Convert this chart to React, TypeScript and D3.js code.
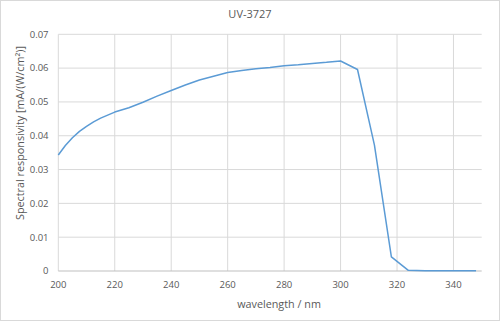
import React from "react";
import * as d3 from "d3";

const title = "UV-3727";
const xLabel = "wavelength / nm";
const yLabel = "Spectral responsivity [mA/(W/cm²)]";

const wavelengths = [200, 202.5, 205, 207.5, 210, 212.5, 215, 220, 225, 230, 235, 240, 245, 250, 255, 260, 265, 270, 275, 280, 285, 290, 295, 300, 306, 312, 318, 324, 330, 336, 342, 348];
const responsivity = [0.0343, 0.0371, 0.0394, 0.0413, 0.0428, 0.0441, 0.0452, 0.047, 0.0483, 0.0499, 0.0517, 0.0534, 0.055, 0.0565, 0.0576, 0.0587, 0.0593, 0.0598, 0.0602, 0.0607, 0.061, 0.0614, 0.0617, 0.0621, 0.0596, 0.0372, 0.0042, 0.0002, 0.0001, 0.0001, 0.0001, 0.0001];

const xTicks = [200, 220, 240, 260, 280, 300, 320, 340];
const yTicks = [0, 0.01, 0.02, 0.03, 0.04, 0.05, 0.06, 0.07];

const W = 500;
const H = 321;
const font = "'Open Sans', sans-serif";
const textColor = "#595959";

export default function App() {
  const x = d3.scaleLinear().domain([200, 350]).range([58.3, 481.7]);
  const y = d3.scaleLinear().domain([0, 0.07]).range([271, 34.3]);
  const pts = wavelengths.map((w, i) => [w, responsivity[i]] as [number, number]);
  const line = d3.line<[number, number]>().x(d => x(d[0])).y(d => y(d[1]));
  const yFmt = (v: number) => (v === 0 ? "0" : d3.format(".2f")(v));

  return (
    <svg width={W} height={H} style={{ position: "absolute", left: 0, top: 0, display: "block" }}>
      <rect x={0.5} y={0.5} width={W - 1} height={H - 1} fill="#fff" stroke="#d9d9d9" />
      {yTicks.filter(t => t > 0).map(t => (
        <line key={"gy" + t} x1={x(200)} x2={x(350)} y1={y(t)} y2={y(t)} stroke="#d9d9d9" strokeWidth={1} />
      ))}
      {xTicks.map(t => (
        <line key={"gx" + t} x1={x(t)} x2={x(t)} y1={y(0)} y2={y(0.07)} stroke="#d9d9d9" strokeWidth={1} />
      ))}
      <line x1={x(200)} x2={x(350)} y1={y(0)} y2={y(0)} stroke="#bfbfbf" strokeWidth={1} />
      <path d={line(pts) || ""} fill="none" stroke="#5b9bd5" strokeWidth={1.5} strokeLinejoin="round" />
      {yTicks.map(t => (
        <text key={"ty" + t} x={48.5} y={y(t)} dy="0.35em" textAnchor="end" fontFamily={font} fontSize={9.5} fill={textColor}>
          {yFmt(t)}
        </text>
      ))}
      {xTicks.map(t => (
        <text key={"tx" + t} x={x(t)} y={285} dy="0.35em" textAnchor="middle" fontFamily={font} fontSize={9.5} fill={textColor}>
          {t}
        </text>
      ))}
      <text x={250} y={17.5} textAnchor="middle" fontFamily={font} fontSize={11} fill={textColor}>{title}</text>
      <text x={279} y={304} dy="0.35em" textAnchor="middle" fontFamily={font} fontSize={10.8} fill={textColor}>{xLabel}</text>
      <text transform={`translate(20.7,133) rotate(-90)`} dy="0.35em" textAnchor="middle" fontFamily={font} fontSize={10.8} fill={textColor}>{yLabel}</text>
    </svg>
  );
}
